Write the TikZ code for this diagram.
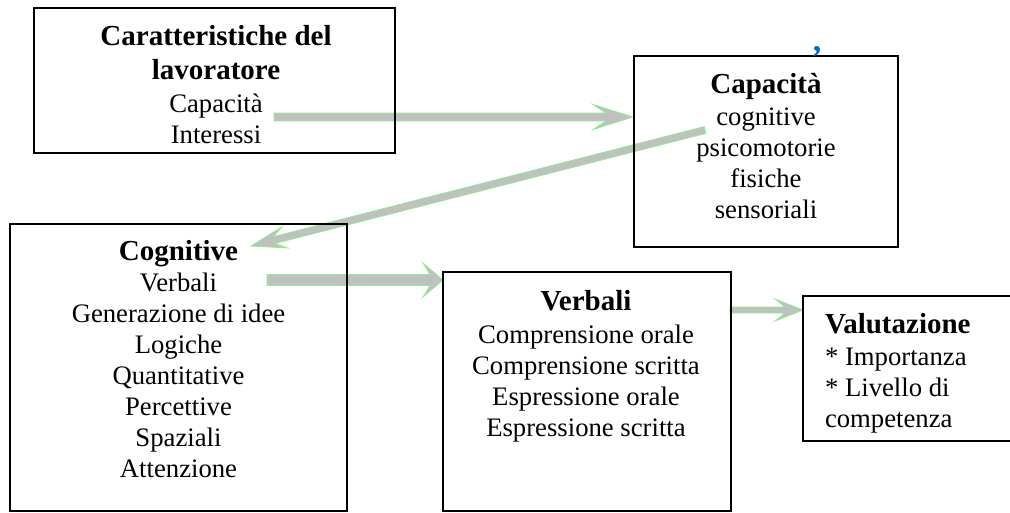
\documentclass[tikz,border=0pt]{standalone}
\usepackage{fontspec}
\setmainfont{Liberation Serif}
\usetikzlibrary{calc}
\definecolor{arrowgray}{RGB}{192,192,192}
\definecolor{arrowgreen}{RGB}{140,240,140}
\definecolor{commablue}{RGB}{0,112,192}
\newcommand{\hbf}{\fontsize{29}{31}\selectfont\bfseries}
% #1 tail, #2 tip, #3 half shaft, #4 half head, #5 head length, #6 junction length, #7 prefix
\newcommand{\blockarrow}[7]{%
  \coordinate (#7w) at ($(#2)!#5!(#1)$);
  \coordinate (#7j) at ($(#2)!#6!(#1)$);
  \filldraw[blockarrowstyle]
    ($(#1)!#3!90:(#2)$) -- ($(#7j)!#3!90:(#2)$) -- ($(#7w)!#4!90:(#2)$) -- (#2)
    -- ($(#7w)!#4!-90:(#2)$) -- ($(#7j)!#3!-90:(#2)$) -- ($(#1)!#3!-90:(#2)$) -- cycle;
}
\tikzset{
  boxstyle/.style={draw=black, line width=1.3pt, rectangle, inner sep=0pt, outer sep=0pt, anchor=north west},
  txtstyle/.style={inner sep=0pt, outer sep=0pt, align=center, anchor=north, font=\fontsize{26.7}{31}\selectfont},
  blockarrowstyle/.style={fill=arrowgray, draw=arrowgreen, line width=0.8pt, line join=miter},
}
\begin{document}
\begin{tikzpicture}[x=1pt,y=-1pt]
\useasboundingbox (0,0) rectangle (1010,512);

% arrows (connectors)
\coordinate (a1s) at (274,117);
\coordinate (a1e) at (633,117);
\coordinate (a2s) at (705,130);
\coordinate (a2e) at (251,246);
\coordinate (a3s) at (267,280);
\coordinate (a3e) at (443,280);
\coordinate (a4s) at (730,310);
\coordinate (a4e) at (803,310);
\blockarrow{a1s}{a1e}{4pt}{12.5pt}{40pt}{27pt}{a1}
\blockarrow{a2s}{a2e}{3.5pt}{11pt}{35pt}{24pt}{a2}
\blockarrow{a3s}{a3e}{5.5pt}{17pt}{20pt}{13pt}{a3}
\blockarrow{a4s}{a4e}{3pt}{11pt}{28pt}{18pt}{a4}

% boxes
\node[boxstyle, minimum width=361pt, minimum height=145pt] (car) at (34,8) {};
\node[boxstyle, minimum width=264pt, minimum height=191pt] (cap) at (634,56) {};
\node[boxstyle, minimum width=337pt, minimum height=287pt] (cog) at (10,224) {};
\node[boxstyle, minimum width=288pt, minimum height=239pt] (ver) at (443,272) {};
\node[boxstyle, minimum width=212pt, minimum height=145pt] (val) at (803,296) {};

% texts
\node[txtstyle] (cartxt) at (216,20)
  {{\hbf\rule{0pt}{25pt}Caratteristiche del}\\[3pt]{\hbf lavoratore}\\[2pt]Capacità\\Interessi};
\node[txtstyle] (captxt) at (766,68)
  {{\hbf\rule{0pt}{25pt}Capacità}\\[1pt]cognitive\\psicomotorie\\fisiche\\sensoriali};
\node[txtstyle] (cogtxt) at (178.5,235)
  {{\hbf\rule{0pt}{25pt}Cognitive}\\Verbali\\Generazione di idee\\Logiche\\Quantitative\\Percettive\\Spaziali\\Attenzione};
\node[txtstyle] (vertxt) at (586,285)
  {{\hbf\rule{0pt}{25pt}Verbali}\\[2pt]Comprensione orale\\Comprensione scritta\\Espressione orale\\Espressione scritta};
\node[txtstyle, align=left, anchor=north west] (valtxt) at (825,308)
  {{\hbf\rule{0pt}{25pt}Valutazione}\\[1pt]* Importanza\\* Livello di\\competenza};

\node[inner sep=0pt, anchor=base, text=commablue, font=\fontsize{34}{34}\selectfont\bfseries] (comma) at (817,51) {,};
\end{tikzpicture}
\end{document}
